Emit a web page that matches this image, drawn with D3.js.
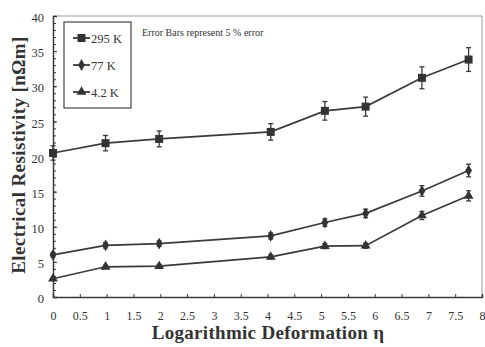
<!DOCTYPE html>
<html>
<head>
<meta charset="utf-8">
<script src="https://cdn.jsdelivr.net/npm/d3@7"></script>
<style>
  body { margin: 0; background: #fff; }
  svg text { font-family: "Liberation Serif", "DejaVu Serif", serif !important; fill: #333; }
</style>
</head>
<body>
<svg></svg>
<script>
const eta = [0, 0.98, 1.98, 4.06, 5.07, 5.83, 6.88, 7.75]
const rho295 = [20.5, 21.9, 22.5, 23.5, 26.5, 27.1, 31.2, 33.8]
const rho77 = [6.0, 7.35, 7.6, 8.7, 10.6, 11.9, 15.1, 18.0]
const rho4 = [2.6, 4.3, 4.4, 5.7, 7.25, 7.3, 11.6, 14.4]
const seriesNames = ['295 K', '77 K', '4.2 K']
const xTicks = [0, 0.5, 1, 1.5, 2, 2.5, 3, 3.5, 4, 4.5, 5, 5.5, 6, 6.5, 7, 7.5, 8]
const yTicks = [0, 5, 10, 15, 20, 25, 30, 35, 40]
const errorFraction = 0.05

const width = 485
const height = 347
const paddingLeft = 53
const paddingRight = 3
const paddingTop = 16
const paddingBottom = 50
const graphWidth = width - paddingLeft - paddingRight
const graphHeight = height - paddingTop - paddingBottom
const ink = '#3a3a3a'
const serif = '"Liberation Serif", "DejaVu Serif", serif'

const svg = d3.select('svg')
              .attr('width', width)
              .attr('height', height)

const xScale = d3.scaleLinear().domain([0, 8]).range([0, graphWidth])
const yScale = d3.scaleLinear().domain([0, 40]).range([graphHeight, 0])

const g = svg.append('g')
             .attr('transform', `translate(${paddingLeft}, ${paddingTop})`)

// frame top/right
g.append('path')
 .attr('d', `M0,0H${graphWidth}V${graphHeight}`)
 .attr('fill', 'none')
 .attr('stroke', '#999')
 .attr('stroke-width', 1)

// x axis, ticks inward
const xAxis = d3.axisBottom(xScale)
                .tickValues(xTicks)
                .tickSize(-3)
                .tickPadding(14)
                .tickFormat(d3.format('~g'))
const xg = g.append('g')
            .attr('transform', `translate(0, ${graphHeight})`)
            .call(xAxis)
            .attr('font-family', serif)
xg.select('.domain').attr('stroke', ink).attr('stroke-width', 1.5)
xg.selectAll('.tick line').attr('stroke', ink)
xg.selectAll('text').attr('font-size', 12).attr('fill', '#333').style('font-family', serif)

// y axis: minor ticks every 1, ticks inward
const yMinor = d3.axisLeft(yScale)
                 .tickValues(d3.range(0, 41, 1))
                 .tickSize(-3)
                 .tickFormat('')
const ymg = g.append('g').call(yMinor)
ymg.select('.domain').remove()
ymg.selectAll('.tick line').attr('stroke', ink)

const yAxis = d3.axisLeft(yScale)
                .tickValues(yTicks)
                .tickSize(-4)
                .tickPadding(9)
const yg = g.append('g').call(yAxis).attr('font-family', serif)
yg.select('.domain').attr('stroke', ink).attr('stroke-width', 1.5)
yg.selectAll('.tick line').attr('stroke', ink)
yg.selectAll('text').attr('font-size', 12.5).attr('fill', '#333').attr('dy', '0.45em')
  .style('font-family', serif)

const allSeries = [rho295, rho77, rho4]
const symbols = [d3.symbolSquare, d3.symbolDiamond, d3.symbolTriangle]
const symSizes = [64, 40, 42]

const line = d3.line()
               .x((d, i) => xScale(eta[i]))
               .y(d => yScale(d))

allSeries.forEach((values, s) => {
  g.append('path')
   .datum(values)
   .attr('d', line)
   .attr('fill', 'none')
   .attr('stroke', ink)
   .attr('stroke-width', 1.7)

  // error bars
  const eb = g.append('g')
  values.forEach((v, i) => {
    const x = xScale(eta[i])
    const lo = yScale(v * (1 - errorFraction))
    const hi = yScale(v * (1 + errorFraction))
    eb.append('line').attr('x1', x).attr('x2', x).attr('y1', lo).attr('y2', hi)
      .attr('stroke', ink).attr('stroke-width', 1.3)
    eb.append('line').attr('x1', x - 2.5).attr('x2', x + 2.5).attr('y1', lo).attr('y2', lo)
      .attr('stroke', ink).attr('stroke-width', 1.3)
    eb.append('line').attr('x1', x - 2.5).attr('x2', x + 2.5).attr('y1', hi).attr('y2', hi)
      .attr('stroke', ink).attr('stroke-width', 1.3)
  })

  g.append('g')
   .selectAll('path')
   .data(values)
   .join('path')
   .attr('d', d3.symbol().type(symbols[s]).size(symSizes[s]))
   .attr('transform', (d, i) => `translate(${xScale(eta[i])}, ${yScale(d)})`)
   .attr('fill', '#333')
})

// legend
const legend = g.append('g').attr('transform', 'translate(11, 6)')
legend.append('rect')
      .attr('width', 67)
      .attr('height', 86)
      .attr('fill', 'none')
      .attr('stroke', '#444')
      .attr('stroke-width', 1.2)
seriesNames.forEach((name, s) => {
  const ly = 16 + s * 27
  legend.append('line').attr('x1', 9).attr('x2', 26).attr('y1', ly).attr('y2', ly)
        .attr('stroke', ink).attr('stroke-width', 1.8)
  legend.append('path')
        .attr('d', d3.symbol().type(symbols[s]).size(symSizes[s]))
        .attr('transform', `translate(17.5, ${ly})`)
        .attr('fill', '#333')
  legend.append('text')
        .text(name)
        .attr('x', 27)
        .attr('y', ly + 4.5)
        .attr('font-size', 12.5)
        .style('font-family', serif)
})

g.append('text')
 .text('Error Bars represent 5 % error')
 .attr('x', 89)
 .attr('y', 20)
 .attr('font-size', 10)
 .style('font-family', serif)

svg.append('text')
   .text('Electrical Resistivity [nΩm]')
   .attr('transform', 'translate(25, 155)rotate(-90)')
   .attr('text-anchor', 'middle')
   .attr('font-size', 19)
   .attr('font-weight', 'bold')
   .attr('letter-spacing', 0.4)
   .style('font-family', serif)

svg.append('text')
   .text('Logarithmic Deformation η')
   .attr('x', 268)
   .attr('y', 339)
   .attr('text-anchor', 'middle')
   .attr('font-size', 19)
   .attr('font-weight', 'bold')
   .attr('letter-spacing', 0.3)
   .style('font-family', serif)
</script>
</body>
</html>
